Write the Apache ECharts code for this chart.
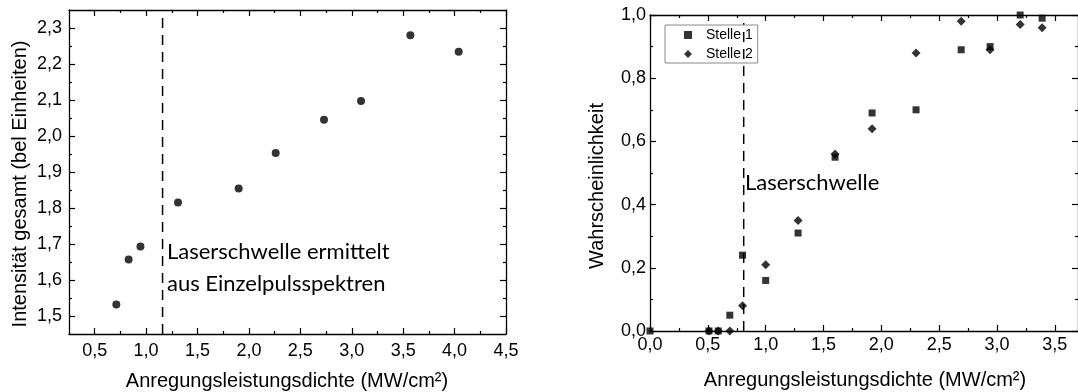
<!DOCTYPE html>
<html>
<head>
<meta charset="utf-8">
<script src="https://cdn.jsdelivr.net/npm/echarts@6/dist/echarts.min.js"></script>
<style>
  html, body { margin: 0; padding: 0; background: #fff; }
  #chart { width: 1078px; height: 392px; }
</style>
</head>
<body>
<div id="chart"></div>
<script>
// Left panel: total intensity (arb. units) vs. excitation power density (MW/cm²)
const intensityX = [0.71, 0.83, 0.945, 1.31, 1.90, 2.26, 2.73, 3.09, 3.57, 4.04];
const intensityY = [1.532, 1.657, 1.693, 1.815, 1.854, 1.953, 2.045, 2.097, 2.280, 2.234];
const thresholdLeft = 1.16;          // lasing threshold from single-pulse spectra
const thresholdLeftSpan = [1.45, 2.33];

// Right panel: lasing probability at two sample positions
const stelle1X = [0, 0.51, 0.59, 0.69, 0.80, 1.00, 1.28, 1.60, 1.92, 2.30, 2.69, 2.94, 3.20, 3.39];
const stelle1Y = [0, 0, 0, 0.05, 0.24, 0.16, 0.31, 0.55, 0.69, 0.70, 0.89, 0.90, 1.00, 0.99];
const stelle2X = [0.51, 0.59, 0.69, 0.80, 1.00, 1.28, 1.60, 1.92, 2.30, 2.69, 2.94, 3.20, 3.39];
const stelle2Y = [0, 0, 0, 0.08, 0.21, 0.35, 0.56, 0.64, 0.88, 0.98, 0.89, 0.97, 0.96];
const thresholdRight = 0.81;
const thresholdRightSpan = [0, 0.975];

// Tick positions (major ticks carry labels)
const leftXMajor = [0.5, 1.0, 1.5, 2.0, 2.5, 3.0, 3.5, 4.0, 4.5];
const leftXMinor = [0.75, 1.25, 1.75, 2.25, 2.75, 3.25, 3.75, 4.25];
const leftYMajor = [1.5, 1.6, 1.7, 1.8, 1.9, 2.0, 2.1, 2.2, 2.3];
const leftYMinor = [1.55, 1.65, 1.75, 1.85, 1.95, 2.05, 2.15, 2.25];
const rightXMajor = [0, 0.5, 1.0, 1.5, 2.0, 2.5, 3.0, 3.5];
const rightXMinor = [0.25, 0.75, 1.25, 1.75, 2.25, 2.75, 3.25];
const rightYMajor = [0, 0.2, 0.4, 0.6, 0.8, 1.0];
const rightYMinor = [0.1, 0.3, 0.5, 0.7, 0.9];

const pairs = (xs, ys) => xs.map((x, i) => [x, ys[i]]);
const comma = v => v.toFixed(1).replace('.', ',');

const INK = '#000';
const SANS = '"Liberation Sans", Arial, sans-serif';
const TICK_FONT = { fontFamily: SANS, fontSize: 18, color: INK };
const NOTE_FONT = 'Lato, "Open Sans", sans-serif';

// Builds a framed set of axes: labelled major ticks on one side,
// mirrored major/minor ticks on the opposite side, all pointing inward.
function axesFor(dim, grid, min, max, major, minor, labelMargin) {
  const sides = dim === 'x' ? ['bottom', 'top'] : ['left', 'right'];
  const line = { color: INK, width: 1.3 };
  const list = [];
  sides.forEach((side, s) => {
    [major, minor].forEach((vals, m) => {
      const ax = {
        type: 'value', gridIndex: grid, min: min, max: max, position: side,
        axisLine: { show: m === 0, onZero: false, lineStyle: line },
        axisTick: { show: true, inside: true, length: m === 0 ? 6 : 3,
                    customValues: vals, lineStyle: { color: INK, width: 1.2 } },
        axisLabel: { show: false },
        splitLine: { show: false }
      };
      if (s === 0 && m === 0) {
        ax.axisLabel = Object.assign({ show: true, customValues: vals,
          formatter: comma, margin: labelMargin }, TICK_FONT);
      }
      list.push(ax);
    });
  });
  return list;
}

const xAxes = [].concat(
  axesFor('x', 0, 0.25, 4.5, leftXMajor, leftXMinor, 8),
  axesFor('x', 1, 0, 3.7, rightXMajor, rightXMinor, 5)
);
const yAxes = [].concat(
  axesFor('y', 0, 1.45, 2.35, leftYMajor, leftYMinor, 7),
  axesFor('y', 1, 0, 1.0, rightYMajor, rightYMinor, 4)
);

const dashed = { color: INK, width: 1.5, type: [10, 7] };

const titleFont = '20px ' + SANS;
const noteFont = '22px ' + NOTE_FONT;

const chart = echarts.init(document.getElementById('chart'), null, { renderer: 'canvas' });
chart.setOption({
  animation: false,
  backgroundColor: '#fff',
  grid: [
    { left: 69, top: 10, width: 437, height: 324 },
    { left: 650, top: 15, right: -1, height: 316 }
  ],
  xAxis: xAxes,
  yAxis: yAxes,
  legend: {
    left: 665, top: 25, orient: 'vertical',
    data: ['Stelle 1', 'Stelle 2'],
    borderColor: '#8a8a8a', borderWidth: 1,
    padding: [3, 5, 2, 19],
    itemWidth: 8, itemHeight: 8, itemGap: 5,
    textStyle: { fontFamily: SANS, fontSize: 14, color: INK, lineHeight: 13,
                 padding: [0, 0, 0, 9] }
  },
  series: [
    {
      type: 'scatter', xAxisIndex: 0, yAxisIndex: 0,
      symbol: 'circle', symbolSize: 8, itemStyle: { color: INK },
      data: pairs(intensityX, intensityY)
    },
    {
      type: 'line', xAxisIndex: 0, yAxisIndex: 0, symbol: 'none',
      lineStyle: dashed, silent: true,
      data: thresholdLeftSpan.map(v => [thresholdLeft, v])
    },
    {
      name: 'Stelle 1', type: 'scatter', xAxisIndex: 4, yAxisIndex: 4,
      symbol: 'rect', symbolSize: 7, itemStyle: { color: INK },
      data: pairs(stelle1X, stelle1Y)
    },
    {
      name: 'Stelle 2', type: 'scatter', xAxisIndex: 4, yAxisIndex: 4,
      symbol: 'diamond', symbolSize: 9, itemStyle: { color: INK },
      data: pairs(stelle2X, stelle2Y)
    },
    {
      type: 'line', xAxisIndex: 4, yAxisIndex: 4, symbol: 'none',
      lineStyle: dashed, silent: true,
      data: thresholdRightSpan.map(v => [thresholdRight, v])
    }
  ],
  graphic: [
    { type: 'text', x: 20, y: 184, rotation: Math.PI / 2,
      style: { text: 'Intensität gesamt (bel Einheiten)', fill: INK, font: titleFont,
               align: 'center', verticalAlign: 'middle' } },
    { type: 'text', x: 287, y: 381,
      style: { text: 'Anregungsleistungsdichte (MW/cm²)', fill: INK, font: titleFont,
               align: 'center', verticalAlign: 'middle' } },
    { type: 'text', x: 597, y: 186, rotation: Math.PI / 2,
      style: { text: 'Wahrscheinlichkeit', fill: INK, font: titleFont,
               align: 'center', verticalAlign: 'middle' } },
    { type: 'text', x: 865, y: 380,
      style: { text: 'Anregungsleistungsdichte (MW/cm²)', fill: INK, font: titleFont,
               align: 'center', verticalAlign: 'middle' } },
    { type: 'text', x: 167, y: 252,
      style: { text: 'Laserschwelle ermittelt', fill: INK, font: noteFont,
               align: 'left', verticalAlign: 'middle' } },
    { type: 'text', x: 167, y: 284,
      style: { text: 'aus Einzelpulsspektren', fill: INK, font: noteFont,
               align: 'left', verticalAlign: 'middle' } },
    { type: 'text', x: 745, y: 183,
      style: { text: 'Laserschwelle', fill: INK, font: noteFont,
               align: 'left', verticalAlign: 'middle' } }
  ]
});
</script>
</body>
</html>
